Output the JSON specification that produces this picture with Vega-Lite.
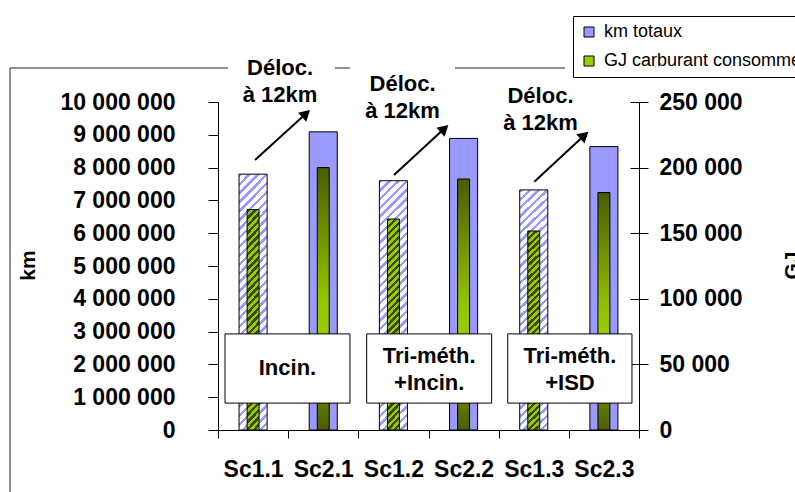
{
  "$schema": "https://vega.github.io/schema/vega-lite/v6.json",
  "width": 421,
  "height": 328,
  "autosize": {"type": "none"},
  "padding": {"left": 218, "top": 102, "right": 156, "bottom": 62},
  "background": "white",
  "config": {
    "font": "Liberation Sans",
    "view": {"stroke": null},
    "locale": {"number": {"decimal": ",", "thousands": " ", "grouping": [3], "currency": ["", " €"]}},
    "axis": {"grid": false, "domainColor": "#000", "tickColor": "#000", "labelColor": "#000", "titleColor": "#000", "labelFont": "Liberation Sans", "labelFontWeight": "bold", "labelFontSize": 23, "titleFont": "Liberation Sans", "titleFontSize": 21, "titleFontWeight": "bold"}
  },
  "datasets": {
    "bars": [
      {"sc": "Sc1.1", "type": "Sc1", "km": 7800000, "gj": 168000},
      {"sc": "Sc2.1", "type": "Sc2", "km": 9090000, "gj": 200000},
      {"sc": "Sc1.2", "type": "Sc1", "km": 7600000, "gj": 160800},
      {"sc": "Sc2.2", "type": "Sc2", "km": 8890000, "gj": 191300},
      {"sc": "Sc1.3", "type": "Sc1", "km": 7320000, "gj": 151700},
      {"sc": "Sc2.3", "type": "Sc2", "km": 8640000, "gj": 181000}
    ]
  },
  "layer": [
    {
      "data": {"name": "bars"},
      "encoding": {
        "x": {"field": "sc", "type": "nominal", "sort": null,
          "scale": {"domain": ["Sc1.1", "Sc2.1", "Sc1.2", "Sc2.2", "Sc1.3", "Sc2.3"], "paddingInner": 0, "paddingOuter": 0},
          "axis": {"title": null, "orient": "bottom", "tickBand": "extent", "tickSize": 8, "labelPadding": 20, "labelAngle": 0}},
        "y": {"field": "km", "type": "quantitative",
          "scale": {"domain": [0, 10000000], "nice": false},
          "axis": {"orient": "left", "title": "km", "values": [0, 1000000, 2000000, 3000000, 4000000, 5000000, 6000000, 7000000, 8000000, 9000000, 10000000], "format": ",d", "tickSize": 10, "labelPadding": 33, "titleAngle": -90, "titleX": -184, "titleY": 163, "titleBaseline": "alphabetic", "titleAlign": "center"}}
      },
      "layer": [
        {
          "transform": [{"filter": "datum.type === 'Sc1'"}],
          "mark": {"type": "bar", "width": {"band": 0.4}, "stroke": "#000", "strokeWidth": 1,
            "fill": {"gradient": "linear", "x1": 0, "y1": 0, "x2": 0.123, "y2": 1.0986, "stops": [
              {"offset": 0, "color": "#99f"}, {"offset": 0.0125, "color": "#99f"}, {"offset": 0.0125, "color": "#fff"}, {"offset": 0.03125, "color": "#fff"},
              {"offset": 0.03125, "color": "#99f"}, {"offset": 0.04375, "color": "#99f"}, {"offset": 0.04375, "color": "#fff"}, {"offset": 0.0625, "color": "#fff"},
              {"offset": 0.0625, "color": "#99f"}, {"offset": 0.075, "color": "#99f"}, {"offset": 0.075, "color": "#fff"}, {"offset": 0.09375, "color": "#fff"},
              {"offset": 0.09375, "color": "#99f"}, {"offset": 0.10625, "color": "#99f"}, {"offset": 0.10625, "color": "#fff"}, {"offset": 0.125, "color": "#fff"},
              {"offset": 0.125, "color": "#99f"}, {"offset": 0.1375, "color": "#99f"}, {"offset": 0.1375, "color": "#fff"}, {"offset": 0.15625, "color": "#fff"},
              {"offset": 0.15625, "color": "#99f"}, {"offset": 0.16875, "color": "#99f"}, {"offset": 0.16875, "color": "#fff"}, {"offset": 0.1875, "color": "#fff"},
              {"offset": 0.1875, "color": "#99f"}, {"offset": 0.2, "color": "#99f"}, {"offset": 0.2, "color": "#fff"}, {"offset": 0.21875, "color": "#fff"},
              {"offset": 0.21875, "color": "#99f"}, {"offset": 0.23125, "color": "#99f"}, {"offset": 0.23125, "color": "#fff"}, {"offset": 0.25, "color": "#fff"},
              {"offset": 0.25, "color": "#99f"}, {"offset": 0.2625, "color": "#99f"}, {"offset": 0.2625, "color": "#fff"}, {"offset": 0.28125, "color": "#fff"},
              {"offset": 0.28125, "color": "#99f"}, {"offset": 0.29375, "color": "#99f"}, {"offset": 0.29375, "color": "#fff"}, {"offset": 0.3125, "color": "#fff"},
              {"offset": 0.3125, "color": "#99f"}, {"offset": 0.325, "color": "#99f"}, {"offset": 0.325, "color": "#fff"}, {"offset": 0.34375, "color": "#fff"},
              {"offset": 0.34375, "color": "#99f"}, {"offset": 0.35625, "color": "#99f"}, {"offset": 0.35625, "color": "#fff"}, {"offset": 0.375, "color": "#fff"},
              {"offset": 0.375, "color": "#99f"}, {"offset": 0.3875, "color": "#99f"}, {"offset": 0.3875, "color": "#fff"}, {"offset": 0.40625, "color": "#fff"},
              {"offset": 0.40625, "color": "#99f"}, {"offset": 0.41875, "color": "#99f"}, {"offset": 0.41875, "color": "#fff"}, {"offset": 0.4375, "color": "#fff"},
              {"offset": 0.4375, "color": "#99f"}, {"offset": 0.45, "color": "#99f"}, {"offset": 0.45, "color": "#fff"}, {"offset": 0.46875, "color": "#fff"},
              {"offset": 0.46875, "color": "#99f"}, {"offset": 0.48125, "color": "#99f"}, {"offset": 0.48125, "color": "#fff"}, {"offset": 0.5, "color": "#fff"},
              {"offset": 0.5, "color": "#99f"}, {"offset": 0.5125, "color": "#99f"}, {"offset": 0.5125, "color": "#fff"}, {"offset": 0.53125, "color": "#fff"},
              {"offset": 0.53125, "color": "#99f"}, {"offset": 0.54375, "color": "#99f"}, {"offset": 0.54375, "color": "#fff"}, {"offset": 0.5625, "color": "#fff"},
              {"offset": 0.5625, "color": "#99f"}, {"offset": 0.575, "color": "#99f"}, {"offset": 0.575, "color": "#fff"}, {"offset": 0.59375, "color": "#fff"},
              {"offset": 0.59375, "color": "#99f"}, {"offset": 0.60625, "color": "#99f"}, {"offset": 0.60625, "color": "#fff"}, {"offset": 0.625, "color": "#fff"},
              {"offset": 0.625, "color": "#99f"}, {"offset": 0.6375, "color": "#99f"}, {"offset": 0.6375, "color": "#fff"}, {"offset": 0.65625, "color": "#fff"},
              {"offset": 0.65625, "color": "#99f"}, {"offset": 0.66875, "color": "#99f"}, {"offset": 0.66875, "color": "#fff"}, {"offset": 0.6875, "color": "#fff"},
              {"offset": 0.6875, "color": "#99f"}, {"offset": 0.7, "color": "#99f"}, {"offset": 0.7, "color": "#fff"}, {"offset": 0.71875, "color": "#fff"},
              {"offset": 0.71875, "color": "#99f"}, {"offset": 0.73125, "color": "#99f"}, {"offset": 0.73125, "color": "#fff"}, {"offset": 0.75, "color": "#fff"},
              {"offset": 0.75, "color": "#99f"}, {"offset": 0.7625, "color": "#99f"}, {"offset": 0.7625, "color": "#fff"}, {"offset": 0.78125, "color": "#fff"},
              {"offset": 0.78125, "color": "#99f"}, {"offset": 0.79375, "color": "#99f"}, {"offset": 0.79375, "color": "#fff"}, {"offset": 0.8125, "color": "#fff"},
              {"offset": 0.8125, "color": "#99f"}, {"offset": 0.825, "color": "#99f"}, {"offset": 0.825, "color": "#fff"}, {"offset": 0.84375, "color": "#fff"},
              {"offset": 0.84375, "color": "#99f"}, {"offset": 0.85625, "color": "#99f"}, {"offset": 0.85625, "color": "#fff"}, {"offset": 0.875, "color": "#fff"},
              {"offset": 0.875, "color": "#99f"}, {"offset": 0.8875, "color": "#99f"}, {"offset": 0.8875, "color": "#fff"}, {"offset": 0.90625, "color": "#fff"},
              {"offset": 0.90625, "color": "#99f"}, {"offset": 0.91875, "color": "#99f"}, {"offset": 0.91875, "color": "#fff"}, {"offset": 0.9375, "color": "#fff"},
              {"offset": 0.9375, "color": "#99f"}, {"offset": 0.95, "color": "#99f"}, {"offset": 0.95, "color": "#fff"}, {"offset": 0.96875, "color": "#fff"},
              {"offset": 0.96875, "color": "#99f"}, {"offset": 0.98125, "color": "#99f"}, {"offset": 0.98125, "color": "#fff"}, {"offset": 1, "color": "#fff"}
            ]}}
        },
        {
          "transform": [{"filter": "datum.type === 'Sc2'"}],
          "mark": {"type": "bar", "width": {"band": 0.4}, "fill": "#9999ff", "stroke": "#000", "strokeWidth": 1}
        }
      ]
    },
    {
      "data": {"name": "bars"},
      "encoding": {
        "x": {"field": "sc", "type": "nominal", "sort": null,
          "scale": {"domain": ["Sc1.1", "Sc2.1", "Sc1.2", "Sc2.2", "Sc1.3", "Sc2.3"], "paddingInner": 0, "paddingOuter": 0},
          "axis": null},
        "y": {"field": "gj", "type": "quantitative",
          "scale": {"domain": [0, 250000], "nice": false},
          "axis": {"orient": "right", "title": "GJ", "values": [0, 50000, 100000, 150000, 200000, 250000], "format": ",d", "tickSize": 9, "labelPadding": 11, "titleAngle": -90, "titleX": 159, "titleY": 163, "titleBaseline": "alphabetic", "titleAlign": "center"}}
      },
      "layer": [
        {
          "transform": [{"filter": "datum.type === 'Sc1'"}],
          "mark": {"type": "bar", "width": {"band": 0.17}, "stroke": "#000", "strokeWidth": 1,
            "fill": {"gradient": "linear", "x1": 0, "y1": 0, "x2": 0.0602, "y2": 1.0537, "stops": [
              {"offset": 0, "color": "#3a4a00"}, {"offset": 0.015625, "color": "#3a4a00"}, {"offset": 0.015625, "color": "#9c0"}, {"offset": 0.03125, "color": "#9c0"},
              {"offset": 0.03125, "color": "#3a4a00"}, {"offset": 0.046875, "color": "#3a4a00"}, {"offset": 0.046875, "color": "#9c0"}, {"offset": 0.0625, "color": "#9c0"},
              {"offset": 0.0625, "color": "#3a4a00"}, {"offset": 0.078125, "color": "#3a4a00"}, {"offset": 0.078125, "color": "#9c0"}, {"offset": 0.09375, "color": "#9c0"},
              {"offset": 0.09375, "color": "#3a4a00"}, {"offset": 0.109375, "color": "#3a4a00"}, {"offset": 0.109375, "color": "#9c0"}, {"offset": 0.125, "color": "#9c0"},
              {"offset": 0.125, "color": "#3a4a00"}, {"offset": 0.140625, "color": "#3a4a00"}, {"offset": 0.140625, "color": "#9c0"}, {"offset": 0.15625, "color": "#9c0"},
              {"offset": 0.15625, "color": "#3a4a00"}, {"offset": 0.171875, "color": "#3a4a00"}, {"offset": 0.171875, "color": "#9c0"}, {"offset": 0.1875, "color": "#9c0"},
              {"offset": 0.1875, "color": "#3a4a00"}, {"offset": 0.203125, "color": "#3a4a00"}, {"offset": 0.203125, "color": "#9c0"}, {"offset": 0.21875, "color": "#9c0"},
              {"offset": 0.21875, "color": "#3a4a00"}, {"offset": 0.234375, "color": "#3a4a00"}, {"offset": 0.234375, "color": "#9c0"}, {"offset": 0.25, "color": "#9c0"},
              {"offset": 0.25, "color": "#3a4a00"}, {"offset": 0.265625, "color": "#3a4a00"}, {"offset": 0.265625, "color": "#9c0"}, {"offset": 0.28125, "color": "#9c0"},
              {"offset": 0.28125, "color": "#3a4a00"}, {"offset": 0.296875, "color": "#3a4a00"}, {"offset": 0.296875, "color": "#9c0"}, {"offset": 0.3125, "color": "#9c0"},
              {"offset": 0.3125, "color": "#3a4a00"}, {"offset": 0.328125, "color": "#3a4a00"}, {"offset": 0.328125, "color": "#9c0"}, {"offset": 0.34375, "color": "#9c0"},
              {"offset": 0.34375, "color": "#3a4a00"}, {"offset": 0.359375, "color": "#3a4a00"}, {"offset": 0.359375, "color": "#9c0"}, {"offset": 0.375, "color": "#9c0"},
              {"offset": 0.375, "color": "#3a4a00"}, {"offset": 0.390625, "color": "#3a4a00"}, {"offset": 0.390625, "color": "#9c0"}, {"offset": 0.40625, "color": "#9c0"},
              {"offset": 0.40625, "color": "#3a4a00"}, {"offset": 0.421875, "color": "#3a4a00"}, {"offset": 0.421875, "color": "#9c0"}, {"offset": 0.4375, "color": "#9c0"},
              {"offset": 0.4375, "color": "#3a4a00"}, {"offset": 0.453125, "color": "#3a4a00"}, {"offset": 0.453125, "color": "#9c0"}, {"offset": 0.46875, "color": "#9c0"},
              {"offset": 0.46875, "color": "#3a4a00"}, {"offset": 0.484375, "color": "#3a4a00"}, {"offset": 0.484375, "color": "#9c0"}, {"offset": 0.5, "color": "#9c0"},
              {"offset": 0.5, "color": "#3a4a00"}, {"offset": 0.515625, "color": "#3a4a00"}, {"offset": 0.515625, "color": "#9c0"}, {"offset": 0.53125, "color": "#9c0"},
              {"offset": 0.53125, "color": "#3a4a00"}, {"offset": 0.546875, "color": "#3a4a00"}, {"offset": 0.546875, "color": "#9c0"}, {"offset": 0.5625, "color": "#9c0"},
              {"offset": 0.5625, "color": "#3a4a00"}, {"offset": 0.578125, "color": "#3a4a00"}, {"offset": 0.578125, "color": "#9c0"}, {"offset": 0.59375, "color": "#9c0"},
              {"offset": 0.59375, "color": "#3a4a00"}, {"offset": 0.609375, "color": "#3a4a00"}, {"offset": 0.609375, "color": "#9c0"}, {"offset": 0.625, "color": "#9c0"},
              {"offset": 0.625, "color": "#3a4a00"}, {"offset": 0.640625, "color": "#3a4a00"}, {"offset": 0.640625, "color": "#9c0"}, {"offset": 0.65625, "color": "#9c0"},
              {"offset": 0.65625, "color": "#3a4a00"}, {"offset": 0.671875, "color": "#3a4a00"}, {"offset": 0.671875, "color": "#9c0"}, {"offset": 0.6875, "color": "#9c0"},
              {"offset": 0.6875, "color": "#3a4a00"}, {"offset": 0.703125, "color": "#3a4a00"}, {"offset": 0.703125, "color": "#9c0"}, {"offset": 0.71875, "color": "#9c0"},
              {"offset": 0.71875, "color": "#3a4a00"}, {"offset": 0.734375, "color": "#3a4a00"}, {"offset": 0.734375, "color": "#9c0"}, {"offset": 0.75, "color": "#9c0"},
              {"offset": 0.75, "color": "#3a4a00"}, {"offset": 0.765625, "color": "#3a4a00"}, {"offset": 0.765625, "color": "#9c0"}, {"offset": 0.78125, "color": "#9c0"},
              {"offset": 0.78125, "color": "#3a4a00"}, {"offset": 0.796875, "color": "#3a4a00"}, {"offset": 0.796875, "color": "#9c0"}, {"offset": 0.8125, "color": "#9c0"},
              {"offset": 0.8125, "color": "#3a4a00"}, {"offset": 0.828125, "color": "#3a4a00"}, {"offset": 0.828125, "color": "#9c0"}, {"offset": 0.84375, "color": "#9c0"},
              {"offset": 0.84375, "color": "#3a4a00"}, {"offset": 0.859375, "color": "#3a4a00"}, {"offset": 0.859375, "color": "#9c0"}, {"offset": 0.875, "color": "#9c0"},
              {"offset": 0.875, "color": "#3a4a00"}, {"offset": 0.890625, "color": "#3a4a00"}, {"offset": 0.890625, "color": "#9c0"}, {"offset": 0.90625, "color": "#9c0"},
              {"offset": 0.90625, "color": "#3a4a00"}, {"offset": 0.921875, "color": "#3a4a00"}, {"offset": 0.921875, "color": "#9c0"}, {"offset": 0.9375, "color": "#9c0"},
              {"offset": 0.9375, "color": "#3a4a00"}, {"offset": 0.953125, "color": "#3a4a00"}, {"offset": 0.953125, "color": "#9c0"}, {"offset": 0.96875, "color": "#9c0"},
              {"offset": 0.96875, "color": "#3a4a00"}, {"offset": 0.984375, "color": "#3a4a00"}, {"offset": 0.984375, "color": "#9c0"}, {"offset": 1, "color": "#9c0"}
            ]}}
        },
        {
          "transform": [{"filter": "datum.type === 'Sc2'"}],
          "mark": {"type": "bar", "width": {"band": 0.17}, "stroke": "#000", "strokeWidth": 1,
            "fill": {"gradient": "linear", "x1": 0, "y1": 0, "x2": 0, "y2": 1, "stops": [
              {"offset": 0, "color": "#4a5c00"}, {"offset": 0.5, "color": "#94c400"}, {"offset": 0.62, "color": "#99cc00"}, {"offset": 1, "color": "#4a5c00"}
            ]}}
        }
      ]
    },
    {
      "encoding": {
        "x": {"field": "x", "type": "quantitative", "scale": {"domain": [0, 6], "nice": false, "zero": false}, "axis": null},
        "y": {"field": "y", "type": "quantitative", "scale": {"domain": [0, 10000000], "nice": false},
          "axis": {"orient": "right", "values": [0, 2000000, 4000000, 6000000, 8000000, 10000000], "labels": false, "domain": false, "tickSize": -9, "title": null}}
      },
      "layer": [
        {
          "data": {"values": [{"x": -2.964, "x2": 12, "y": 11037000, "y2": -4000000}]},
          "mark": {"type": "rect", "fill": "transparent", "stroke": "#222", "strokeWidth": 1},
          "encoding": {"x2": {"field": "x2"}, "y2": {"field": "y2"}}
        },
        {
          "data": {"values": [
            {"x": 0.143, "x2": 1.667, "y": 11430000, "y2": 9820000},
            {"x": 1.881, "x2": 3.378, "y": 11220000, "y2": 9330000},
            {"x": 4.945, "x2": 5.06, "y": 11150000, "y2": 10900000}
          ]},
          "mark": {"type": "rect", "fill": "#fff", "stroke": null},
          "encoding": {"x2": {"field": "x2"}, "y2": {"field": "y2"}}
        },
        {
          "data": {"values": [
            {"x": 0.1, "x2": 1.881, "y": 2930000, "y2": 820000},
            {"x": 2.119, "x2": 3.9, "y": 2930000, "y2": 820000},
            {"x": 4.129, "x2": 5.9, "y": 2930000, "y2": 820000}
          ]},
          "mark": {"type": "rect", "fill": "#fff", "stroke": "#000", "strokeWidth": 1},
          "encoding": {"x2": {"field": "x2"}, "y2": {"field": "y2"}}
        },
        {
          "data": {"values": [
            {"x": 0.99, "y": 1890000, "t": "Incin."},
            {"x": 3.01, "y": 2241000, "t": "Tri-méth.\n+Incin."},
            {"x": 5.016, "y": 2241000, "t": "Tri-méth.\n+ISD"},
            {"x": 0.884, "y": 11037000, "t": "Déloc.\nà 12km"},
            {"x": 2.63, "y": 10549000, "t": "Déloc.\nà 12km"},
            {"x": 4.596, "y": 10198000, "t": "Déloc.\nà 12km"}
          ]},
          "mark": {"type": "text", "font": "Liberation Sans", "fontSize": 22, "fontWeight": "bold", "lineBreak": "\n", "lineHeight": 27, "align": "center", "baseline": "middle", "color": "#000"},
          "encoding": {"text": {"field": "t"}}
        },
        {
          "data": {"values": [
            {"x": 0.5273, "y": 8232000, "x2": 1.2556, "y2": 9646000},
            {"x": 2.5083, "y": 7774000, "x2": 3.2265, "y2": 9189000},
            {"x": 4.508, "y": 7570000, "x2": 5.2218, "y2": 8985000}
          ]},
          "mark": {"type": "rule", "color": "#000", "strokeWidth": 2},
          "encoding": {"x2": {"field": "x2"}, "y2": {"field": "y2"}}
        },
        {
          "data": {"values": [
            {"x": 1.2556, "y": 9646000},
            {"x": 3.2265, "y": 9189000},
            {"x": 5.2218, "y": 8985000}
          ]},
          "mark": {"type": "point", "shape": "triangle-up", "filled": true, "size": 150, "angle": 47.5, "color": "#000", "opacity": 1},
          "encoding": {}
        }
      ]
    },
    {
      "data": {"values": [{"s": "km totaux"}, {"s": "GJ carburant consommé"}]},
      "mark": {"type": "square", "opacity": 0},
      "encoding": {
        "color": {"field": "s", "type": "nominal",
          "scale": {"domain": ["km totaux", "GJ carburant consommé"], "range": ["#9999ff", "#99cc00"]},
          "legend": {"orient": "none", "legendX": 355, "legendY": -86, "title": null, "symbolType": "square", "symbolSize": 100, "symbolStrokeColor": "#000", "symbolStrokeWidth": 1, "symbolOpacity": 1, "labelFont": "Liberation Sans", "labelFontSize": 18, "labelColor": "#000", "labelOffset": 6, "labelLimit": 0, "rowPadding": 11, "padding": 7, "strokeColor": "#000", "fillColor": "#fff"}}
      }
    }
  ],
  "resolve": {"scale": {"x": "independent", "y": "independent"}}
}
